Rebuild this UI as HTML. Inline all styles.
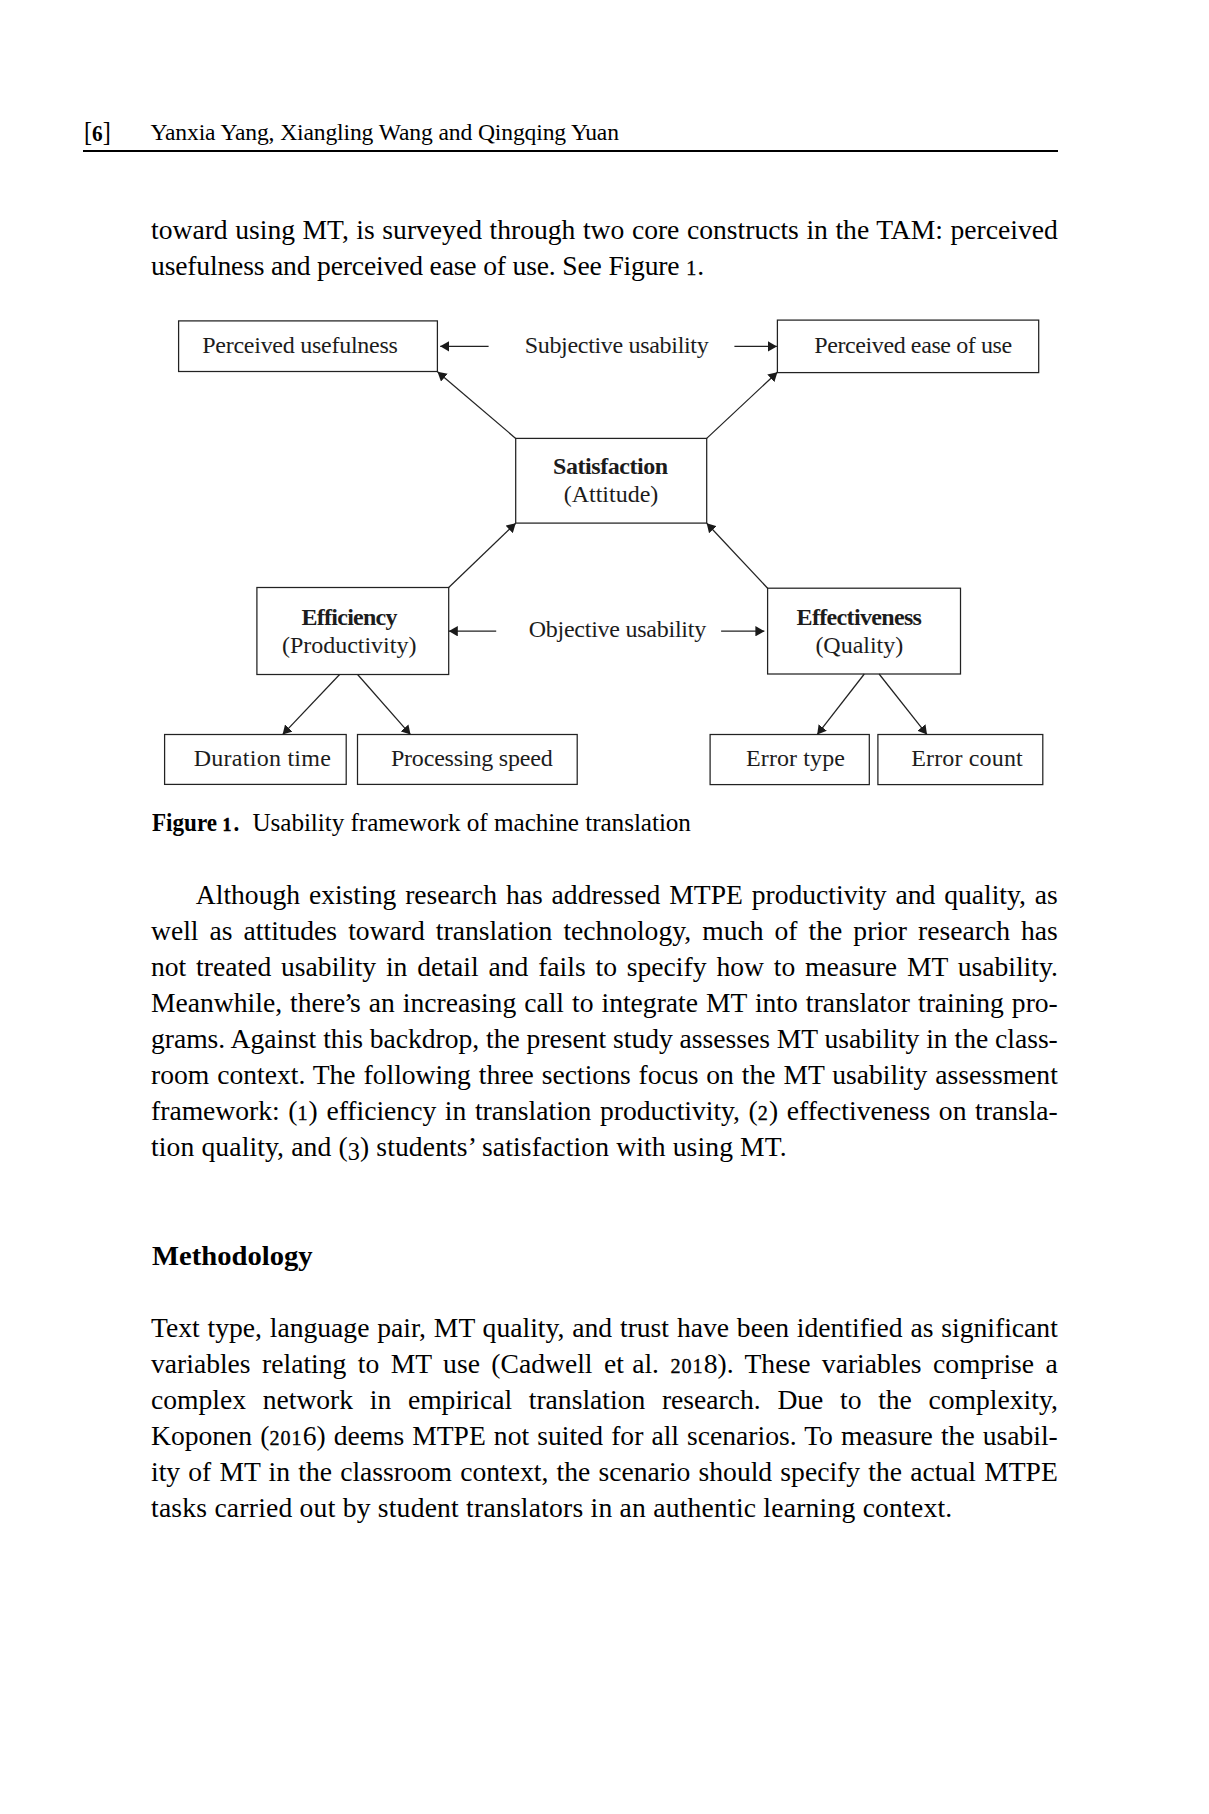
<!DOCTYPE html>
<html lang="en"><head><meta charset="utf-8"><title>Page 6</title>
<style>
html,body{margin:0;padding:0;background:#fff}
body{width:1209px;height:1814px;position:relative;overflow:hidden;font-family:"Liberation Serif",serif;color:#000}
.ln{position:absolute;white-space:nowrap;font-size:27.6px;line-height:36px;height:36px;margin:0}
.rule{position:absolute;left:83px;top:149.5px;width:975px;height:2px;background:#000}
.b{font-weight:bold}
.n{font-weight:normal;font-size:1.14em;position:relative;top:-.01em}.o{font-size:.73em;letter-spacing:.05em;-webkit-text-stroke:.35px #000}.d{position:relative;top:.15em;font-size:.88em}.q{margin:0 -.12em 0 -.04em}.b .o{-webkit-text-stroke:.7px #000;letter-spacing:.14em}.t{display:inline-block;width:.3em}
#fig{position:absolute;left:0;top:300px}
#fig text{font-family:"Liberation Serif",serif;fill:#1c1c1c;font-size:24px}
#fig .bx{fill:none;stroke:#222;stroke-width:1.25}
#fig .ar{fill:none;stroke:#222;stroke-width:1.25}
#fig .hd{fill:#1a1a1a;stroke:none}
</style></head><body>
<div class="rule"></div>

<div class="ln" style="left:151.0px;top:212.19px;word-spacing:0.671px;">toward using MT, is surveyed through two core constructs in the TAM: perceived</div>
<div class="ln" style="left:151.0px;top:248.19px;letter-spacing:-0.165px;">usefulness and perceived ease of use. See Figure <span class="o">1</span>.</div>
<div class="ln" style="left:195.8px;top:877.18px;word-spacing:1.972px;">Although existing research has addressed MTPE productivity and quality, as</div>
<div class="ln" style="left:151.0px;top:913.18px;word-spacing:4.162px;">well as attitudes toward translation technology, much of the prior research has</div>
<div class="ln" style="left:151.0px;top:949.18px;word-spacing:2.965px;">not treated usability in detail and fails to specify how to measure MT usability.</div>
<div class="ln" style="left:151.0px;top:985.18px;word-spacing:1.101px;">Meanwhile, there<span class="q">’</span>s an increasing call to integrate MT into translator training pro-</div>
<div class="ln" style="left:151.0px;top:1021.18px;letter-spacing:-0.020px;">grams. Against this backdrop, the present study assesses MT usability in the class-</div>
<div class="ln" style="left:151.0px;top:1057.18px;word-spacing:1.016px;">room context. The following three sections focus on the MT usability assessment</div>
<div class="ln" style="left:151.0px;top:1093.18px;word-spacing:1.719px;">framework: (<span class="o">1</span>) efficiency in translation productivity, (<span class="o">2</span>) effectiveness on transla-</div>
<div class="ln" style="left:151.0px;top:1129.18px;letter-spacing:0.121px;">tion quality, and (<span class="d">3</span>) students’ satisfaction with using MT.</div>
<div class="ln" style="left:151.0px;top:1310.18px;word-spacing:0.981px;">Text type, language pair, MT quality, and trust have been identified as significant</div>
<div class="ln" style="left:151.0px;top:1346.18px;word-spacing:4.570px;">variables relating to MT use (Cadwell et<span class="t"></span>al. <span class="o">201</span>8). These variables comprise a</div>
<div class="ln" style="left:151.0px;top:1382.18px;word-spacing:9.771px;">complex network in empirical translation research. Due to the complexity,</div>
<div class="ln" style="left:151.0px;top:1418.18px;word-spacing:1.159px;">Koponen (<span class="o">201</span>6) deems MTPE not suited for all scenarios. To measure the usabil-</div>
<div class="ln" style="left:151.0px;top:1454.18px;word-spacing:1.296px;">ity of MT in the classroom context, the scenario should specify the actual MTPE</div>
<div class="ln" style="left:151.0px;top:1490.18px;letter-spacing:0.217px;">tasks carried out by student translators in an authentic learning context.</div>
<div class="ln b" style="left:83.8px;top:114.03px;font-size:23.6px;transform:scaleX(0.9013);transform-origin:0 0;"><span class="n">[</span>6<span class="n">]</span></div>
<div class="ln" style="left:150.5px;top:114.03px;font-size:23.6px;letter-spacing:-0.148px;word-spacing:0.148px;">Yanxia Yang, Xiangling Wang and Qingqing Yuan</div>
<div class="ln b" style="left:152.0px;top:805.00px;font-size:25.2px;transform:scaleX(0.9167);transform-origin:0 0;">Figure <span class="o">1</span>.</div>
<div class="ln" style="left:252.4px;top:805.00px;font-size:25.2px;letter-spacing:-0.056px;word-spacing:0.056px;">Usability framework of machine translation</div>
<div class="ln b" style="left:152.4px;top:1238.18px;font-size:27.6px;transform:scaleX(1.0373);transform-origin:0 0;">Methodology</div>
<svg id="fig" width="1209" height="520" viewBox="0 300 1209 520">
<defs>
<marker id="ah" refX="9" refY="5.2" markerWidth="9" markerHeight="10.4" markerUnits="userSpaceOnUse" orient="auto"><path class="hd" d="M0,0 L9,5.2 L0,10.4 Z"/></marker>
</defs>
<!-- boxes -->
<rect class="bx" x="178.6" y="320.9" width="258.8" height="50.6"/>
<rect class="bx" x="777.4" y="320.1" width="261.3" height="52.5"/>
<rect class="bx" x="515.7" y="438.4" width="191.0" height="84.7"/>
<rect class="bx" x="256.9" y="587.5" width="191.8" height="87.0"/>
<rect class="bx" x="767.6" y="588.2" width="192.9" height="85.8"/>
<rect class="bx" x="164.6" y="734.5" width="181.6" height="49.9"/>
<rect class="bx" x="357.5" y="734.5" width="219.7" height="49.9"/>
<rect class="bx" x="710.1" y="734.5" width="159.2" height="50.1"/>
<rect class="bx" x="877.9" y="734.5" width="164.9" height="50.1"/>
<!-- arrows -->
<line class="ar" x1="488.6" y1="346.3" x2="440.2" y2="346.3" marker-end="url(#ah)"/>
<line class="ar" x1="734.4" y1="346.4" x2="776.9" y2="346.4" marker-end="url(#ah)"/>
<line class="ar" x1="515.7" y1="438.4" x2="437.5" y2="371.8" marker-end="url(#ah)"/>
<line class="ar" x1="706.7" y1="438.4" x2="777.4" y2="372.2" marker-end="url(#ah)"/>
<line class="ar" x1="448.7" y1="587.5" x2="515.7" y2="523.2" marker-end="url(#ah)"/>
<line class="ar" x1="767.6" y1="588.2" x2="706.7" y2="523.2" marker-end="url(#ah)"/>
<line class="ar" x1="496.2" y1="631.2" x2="448.8" y2="631.2" marker-end="url(#ah)"/>
<line class="ar" x1="721.1" y1="631.2" x2="764.4" y2="631.2" marker-end="url(#ah)"/>
<line class="ar" x1="339.6" y1="674.5" x2="282.6" y2="734.6" marker-end="url(#ah)"/>
<line class="ar" x1="357.6" y1="674.5" x2="410.5" y2="734.6" marker-end="url(#ah)"/>
<line class="ar" x1="864.3" y1="674.0" x2="817.2" y2="734.6" marker-end="url(#ah)"/>
<line class="ar" x1="879.1" y1="674.0" x2="927" y2="734.6" marker-end="url(#ah)"/>
<!-- labels -->
<text x="202.2" y="352.7" textLength="195.7">Perceived usefulness</text>
<text x="524.7" y="352.7" textLength="184.0">Subjective usability</text>
<text x="814.2" y="352.5" textLength="198.0">Perceived ease of use</text>
<text x="553.0" y="473.8" textLength="115.2" font-weight="bold">Satisfaction</text>
<text x="563.7" y="502.1" textLength="94.6">(Attitude)</text>
<text x="301.6" y="624.7" textLength="95.9" font-weight="bold">Efficiency</text>
<text x="281.9" y="652.6" textLength="134.5">(Productivity)</text>
<text x="528.7" y="637.4" textLength="177.5">Objective usability</text>
<text x="796.6" y="624.8" textLength="125.3" font-weight="bold">Effectiveness</text>
<text x="815.4" y="653.0" textLength="87.8">(Quality)</text>
<text x="193.7" y="766.1" textLength="137.2">Duration time</text>
<text x="390.9" y="766.1" textLength="161.8">Processing speed</text>
<text x="746.0" y="766.1" textLength="99.0">Error type</text>
<text x="911.2" y="766.1" textLength="111.5">Error count</text>
</svg>

</body></html>
